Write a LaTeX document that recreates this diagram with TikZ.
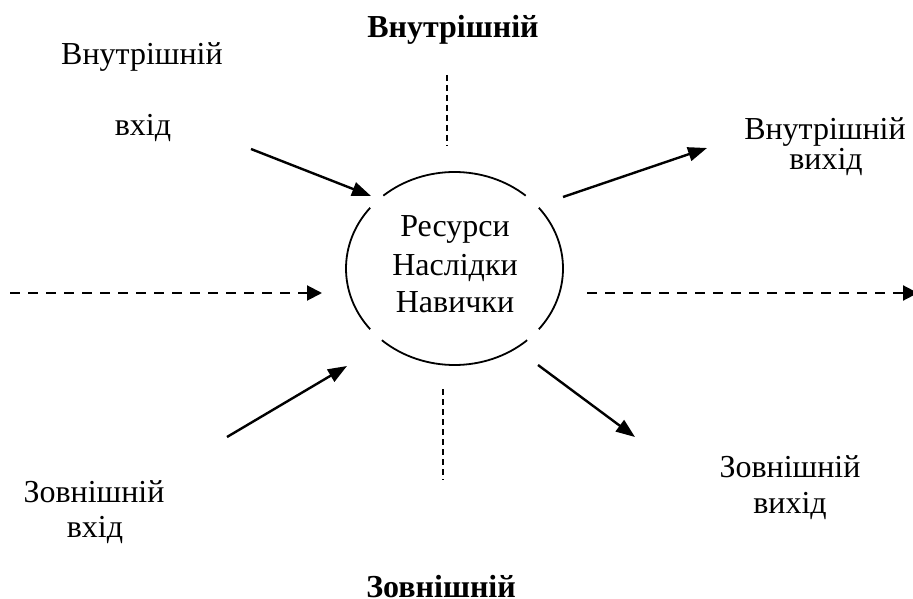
\documentclass[tikz,border=0pt]{standalone}
\usepackage{fontspec}
\setmainfont{Liberation Serif}
\usetikzlibrary{arrows.meta}
\begin{document}
\begin{tikzpicture}[x=0.5pt,y=-0.5pt,
  lbl/.style={anchor=base,inner sep=0pt,font=\fontsize{16}{19}\selectfont},
  blbl/.style={lbl,font=\fontsize{16}{19}\selectfont\bfseries},
  solidarrow/.style={line width=1.2pt,-{Triangle[length=9.5pt,width=7pt]}},
  hdash/.style={line width=1pt,dash pattern=on 5pt off 4pt,-{Triangle[length=7.5pt,width=7.5pt]}},
  vdash/.style={line width=0.6pt,dash pattern=on 3pt off 2pt},
  arcline/.style={line width=0.9pt}]
\useasboundingbox (0,0) rectangle (913,598);
% centre
\coordinate (c) at (454.5,268.5);
\node[lbl] (r1) at (455,237) {Ресурси};
\node[lbl] (r2) at (455,275) {Наслідки};
\node[lbl] (r3) at (455,312) {Навички};
% broken ellipse
\draw[arcline] ([shift={(48:108.5 and 96.5)}]c) arc[start angle=48,end angle=132,x radius=108.5,y radius=96.5];
\draw[arcline] ([shift={(141:108.5 and 96.5)}]c) arc[start angle=141,end angle=219,x radius=108.5,y radius=96.5];
\draw[arcline] ([shift={(229:108.5 and 96.5)}]c) arc[start angle=229,end angle=311,x radius=108.5,y radius=96.5];
\draw[arcline] ([shift={(-39:108.5 and 96.5)}]c) arc[start angle=-39,end angle=39,x radius=108.5,y radius=96.5];
% labels
\node[blbl] (ti) at (453,38) {Внутрішній};
\node[blbl] (bo) at (441,597) {Зовнішній};
\node[lbl] (iin1) at (142,65) {Внутрішній};
\node[lbl] (iin2) at (143,136) {вхід};
\node[lbl] (iout1) at (825,140) {Внутрішній};
\node[lbl] (iout2) at (826,170) {вихід};
\node[lbl] (ein1) at (94,502) {Зовнішній};
\node[lbl] (ein2) at (95,537) {вхід};
\node[lbl] (eout1) at (790,477) {Зовнішній};
\node[lbl] (eout2) at (790,513) {вихід};
% arrow end points
\coordinate (a1s) at (251,149); \coordinate (a1e) at (371,196);
\coordinate (a2s) at (563,197); \coordinate (a2e) at (707,148);
\coordinate (a3s) at (227,437); \coordinate (a3e) at (347,366);
\coordinate (a4s) at (538,365); \coordinate (a4e) at (635,437);
\draw[solidarrow] (a1s) -- (a1e);
\draw[solidarrow] (a2s) -- (a2e);
\draw[solidarrow] (a3s) -- (a3e);
\draw[solidarrow] (a4s) -- (a4e);
% dashed
\coordinate (hls) at (10,293); \coordinate (hle) at (322,293);
\coordinate (hrs) at (587,293); \coordinate (hre) at (918,293);
\draw[hdash] (hls) -- (hle);
\draw[hdash] (hrs) -- (hre);
\coordinate (vts) at (447,75); \coordinate (vte) at (447,146);
\coordinate (vbs) at (443,389); \coordinate (vbe) at (443,480);
\draw[vdash] (vts) -- (vte);
\draw[vdash] (vbs) -- (vbe);
\end{tikzpicture}
\end{document}
